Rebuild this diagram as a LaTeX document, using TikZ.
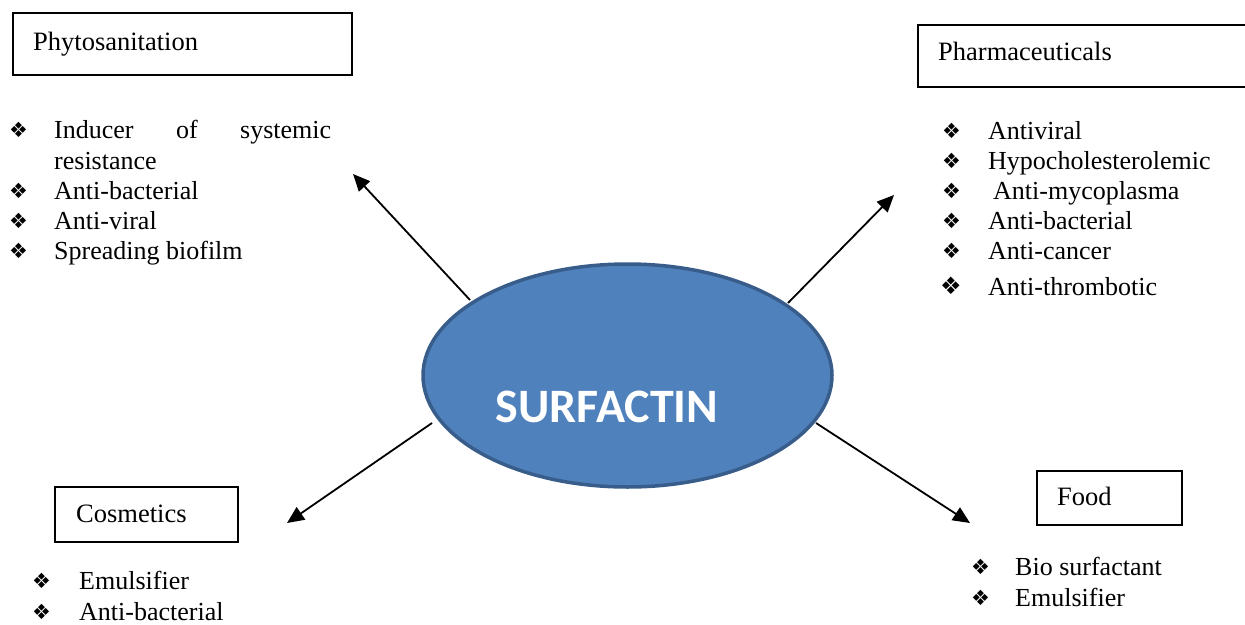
\documentclass[tikz,border=0pt]{standalone}
\usepackage{fontspec}
\setmainfont{Liberation Serif}
\newfontfamily\symfont{DejaVu Sans}
\newfontfamily\calfont{Carlito}
\usetikzlibrary{shapes.geometric,arrows.meta}
\definecolor{ellfill}{HTML}{4F81BD}
\definecolor{elldraw}{HTML}{385D8A}
\tikzset{
  box/.style={draw=black,line width=1.6pt},
  lbl/.style={anchor=base west,inner sep=0pt,font=\fontsize{26.5}{30}\selectfont},
  item/.style={anchor=base west,inner sep=0pt,font=\fontsize{26}{30}\selectfont},
  bul/.style={anchor=base west,inner sep=0pt,font=\symfont\fontsize{21}{23}\selectfont},
  conn/.style={line width=1.8pt,-{Triangle[length=17pt,width=15pt]}}
}
\begin{document}
\begin{tikzpicture}[x=1pt,y=-1pt]
\useasboundingbox (0,0) rectangle (1245,624);
% boxes
\draw[box] (13,13) rectangle (352,75);
\node[lbl] (phyto) at (33,50) {Phytosanitation};
\draw[box] (1250,25) -- (918,25) -- (918,87) -- (1250,87);
\node[lbl] (pharma) at (938,60) {Pharmaceuticals};
\draw[box] (55,487) rectangle (238,542);
\node[lbl] (cosm) at (76,522) {Cosmetics};
\draw[box] (1037,471) rectangle (1182,525);
\node[lbl] (food) at (1057,505) {Food};
% ellipse
\node[ellipse,draw=elldraw,fill=ellfill,line width=3.5pt,minimum width=409pt,minimum height=223pt,inner sep=0pt] (surf) at (627.5,375.5) {};
\node[anchor=base,inner sep=0pt,text=white,font=\calfont\bfseries\fontsize{48}{50}\selectfont] (surft) at (607,422) {SURFACTIN};
% left-top list
\node[bul] (b1) at (9,137) {❖};
\node[item] (i1) at (54,138) {\hbox to 277pt{Inducer\hfill of\hfill systemic}};
\node[item] (i1b) at (54,169) {resistance};
\node[bul] (b2) at (9,198) {❖};
\node[item] (i2) at (54,199) {Anti-bacterial};
\node[bul] (b3) at (9,228) {❖};
\node[item] (i3) at (54,229) {Anti-viral};
\node[bul] (b4) at (9,258) {❖};
\node[item] (i4) at (54,259) {Spreading biofilm};
% right-top list
\node[bul] (p1) at (942,138) {❖};
\node[item] (q1) at (988,139) {Antiviral};
\node[bul] (p2) at (942,168) {❖};
\node[item] (q2) at (988,169) {Hypocholesterolemic};
\node[bul] (p3) at (942,198) {❖};
\node[item] (q3) at (993,199) {Anti-mycoplasma};
\node[bul] (p4) at (942,228) {❖};
\node[item] (q4) at (988,229) {Anti-bacterial};
\node[bul] (p5) at (942,258) {❖};
\node[item] (q5) at (988,259) {Anti-cancer};
\node[bul,font=\symfont\fontsize{24}{26}\selectfont] (p6) at (940,294) {❖};
\node[item] (q6) at (988,295) {Anti-thrombotic};
% cosmetics list
\node[bul] (c1) at (32,588) {❖};
\node[item] (d1) at (79,589) {Emulsifier};
\node[bul] (c2) at (32,619) {❖};
\node[item] (d2) at (79,620) {Anti-bacterial};
% food list
\node[bul] (f1) at (971,574) {❖};
\node[item] (g1) at (1015,575) {Bio surfactant};
\node[bul] (f2) at (971,605) {❖};
\node[item] (g2) at (1015,606) {Emulsifier};
% arrows
\coordinate (s1) at (470,300); \coordinate (t1) at (353,174);
\coordinate (s2) at (788,303); \coordinate (t2) at (894,195);
\coordinate (s3) at (432,423); \coordinate (t3) at (287,523);
\coordinate (s4) at (816,423); \coordinate (t4) at (970,523);
\draw[conn] (s1) -- (t1);
\draw[conn] (s2) -- (t2);
\draw[conn] (s3) -- (t3);
\draw[conn] (s4) -- (t4);
\end{tikzpicture}
\end{document}
